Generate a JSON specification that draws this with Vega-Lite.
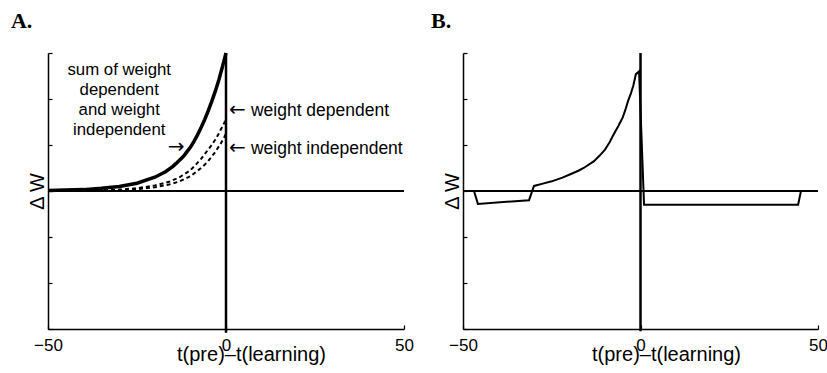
{
  "$schema": "https://vega.github.io/schema/vega-lite/v6.json",
  "background": "white",
  "padding": {"left": 10, "top": 10, "right": 5, "bottom": 5},
  "spacing": 59,
  "bounds": "flush",
  "config": {
    "view": {"stroke": null},
    "font": "Liberation Sans",
    "axis": {
      "grid": false,
      "domainColor": "black",
      "domainWidth": 1.5,
      "tickColor": "black",
      "tickWidth": 1.2,
      "tickSize": -4,
      "labelColor": "black",
      "labelFont": "Liberation Sans",
      "labelFontSize": 17,
      "titleColor": "black",
      "titleFont": "Liberation Sans",
      "titleFontWeight": "normal",
      "titleFontSize": 20
    }
  },
  "hconcat": [
    {
      "width": 356,
      "height": 276,
      "encoding": {
        "x": {"field": "x", "type": "quantitative", "scale": {"domain": [-50, 50], "nice": false},
          "axis": {"values": [-50, 0, 50], "title": "t(pre)–t(learning)", "labelPadding": 12, "labelFlush": false, "titleX": 203, "titleY": 31, "titleBaseline": "alphabetic", "titleAlign": "center"}},
        "y": {"field": "y", "type": "quantitative", "scale": {"domain": [-3, 3], "nice": false},
          "axis": {"values": [-3, -2, -1, 0, 1, 2, 3], "labels": false, "title": "Δ W", "titleAngle": 270, "titleX": -5, "titleY": 138, "titleAlign": "center", "titleBaseline": "alphabetic"}}
      },
      "layer": [
        {"data": {"values": [{"x": -50, "x2": 50, "y": 0}]}, "mark": {"type": "rule", "color": "black", "strokeWidth": 2}, "encoding": {"x2": {"field": "x2"}}},
        {"data": {"values": [{"x": 0, "y": -3.08, "y2": 3}]}, "mark": {"type": "rule", "color": "black", "strokeWidth": 2.5}, "encoding": {"y2": {"field": "y2"}}},
        {"data": {"values": [
          {"x": -50, "y": 0.0}, {"x": -40, "y": 0.01}, {"x": -30, "y": 0.03}, {"x": -25, "y": 0.06}, {"x": -20, "y": 0.12},
          {"x": -16, "y": 0.2}, {"x": -13, "y": 0.3}, {"x": -10, "y": 0.45}, {"x": -8.5, "y": 0.57}, {"x": -7, "y": 0.7},
          {"x": -6, "y": 0.8}, {"x": -5, "y": 0.9}, {"x": -4, "y": 1.0}, {"x": -3, "y": 1.12}, {"x": -2, "y": 1.25},
          {"x": -1.5, "y": 1.33}, {"x": -1, "y": 1.4}, {"x": -0.5, "y": 1.48}, {"x": 0, "y": 1.57}]},
         "mark": {"type": "line", "color": "black", "strokeWidth": 2, "strokeDash": [4, 3]}},
        {"data": {"values": [
          {"x": -50, "y": 0.0}, {"x": -40, "y": 0.005}, {"x": -30, "y": 0.02}, {"x": -25, "y": 0.04}, {"x": -20, "y": 0.08},
          {"x": -16, "y": 0.14}, {"x": -13, "y": 0.21}, {"x": -10, "y": 0.32}, {"x": -8.5, "y": 0.41}, {"x": -7, "y": 0.5},
          {"x": -6, "y": 0.57}, {"x": -5, "y": 0.65}, {"x": -4, "y": 0.75}, {"x": -3, "y": 0.85}, {"x": -2, "y": 0.97},
          {"x": -1.5, "y": 1.03}, {"x": -1, "y": 1.1}, {"x": -0.5, "y": 1.17}, {"x": 0, "y": 1.25}]},
         "mark": {"type": "line", "color": "black", "strokeWidth": 2, "strokeDash": [4, 3]}},
        {"data": {"values": [
          {"x": -50, "y": 0.01}, {"x": -45, "y": 0.02}, {"x": -40, "y": 0.03}, {"x": -35, "y": 0.06}, {"x": -30, "y": 0.1},
          {"x": -25, "y": 0.17}, {"x": -20, "y": 0.3}, {"x": -17, "y": 0.42}, {"x": -15, "y": 0.53}, {"x": -14, "y": 0.6},
          {"x": -12, "y": 0.75}, {"x": -11, "y": 0.85}, {"x": -10, "y": 0.95}, {"x": -9, "y": 1.08}, {"x": -8, "y": 1.22},
          {"x": -7, "y": 1.38}, {"x": -6, "y": 1.55}, {"x": -5, "y": 1.74}, {"x": -4, "y": 1.95}, {"x": -3, "y": 2.17},
          {"x": -2, "y": 2.42}, {"x": -1.5, "y": 2.56}, {"x": -1, "y": 2.7}, {"x": -0.5, "y": 2.85}, {"x": 0, "y": 3.0}]},
         "mark": {"type": "line", "color": "black", "strokeWidth": 3.5}},
        {"data": {"values": [{"x": -30, "y": 2.52, "label": "sum of weight\ndependent\nand weight\nindependent"}]},
         "mark": {"type": "text", "color": "black", "fontSize": 16.8, "align": "center", "baseline": "alphabetic", "lineBreak": "\n", "lineHeight": 20},
         "encoding": {"text": {"field": "label"}}},
        {"data": {"values": [
          {"x": 7.0, "y": 1.74, "label": "weight dependent"},
          {"x": 7.0, "y": 0.91, "label": "weight independent"}]},
         "mark": {"type": "text", "color": "black", "fontSize": 17.5, "align": "left", "baseline": "middle"},
         "encoding": {"text": {"field": "label"}}},
        {"data": {"values": [
          {"x": 3.2, "y": 1.76, "label": "←"},
          {"x": 3.2, "y": 0.93, "label": "←"},
          {"x": -14, "y": 0.95, "label": "→"}]},
         "mark": {"type": "text", "color": "black", "font": "DejaVu Sans", "fontSize": 20, "align": "center", "baseline": "middle"},
         "encoding": {"text": {"field": "label"}}},
        {"data": {"values": [{"x": -60.4, "y": 3.54, "label": "A."}]},
         "mark": {"type": "text", "color": "black", "font": "Liberation Serif", "fontSize": 22, "fontWeight": "bold", "align": "left", "baseline": "alphabetic"},
         "encoding": {"text": {"field": "label"}}}
      ]
    },
    {
      "width": 355,
      "height": 276,
      "encoding": {
        "x": {"field": "x", "type": "quantitative", "scale": {"domain": [-50, 50], "nice": false},
          "axis": {"values": [-50, 0, 50], "title": "t(pre)–t(learning)", "labelPadding": 12, "labelFlush": false, "titleX": 203, "titleY": 31, "titleBaseline": "alphabetic", "titleAlign": "center"}},
        "y": {"field": "y", "type": "quantitative", "scale": {"domain": [-3, 3], "nice": false},
          "axis": {"values": [-3, -2, -1, 0, 1, 2, 3], "labels": false, "title": "Δ W", "titleAngle": 270, "titleX": -5, "titleY": 138, "titleAlign": "center", "titleBaseline": "alphabetic"}}
      },
      "layer": [
        {"data": {"values": [{"x": -50, "x2": 50, "y": 0}]}, "mark": {"type": "rule", "color": "black", "strokeWidth": 2}, "encoding": {"x2": {"field": "x2"}}},
        {"data": {"values": [{"x": 0, "y": -3.05, "y2": 3}]}, "mark": {"type": "rule", "color": "black", "strokeWidth": 2.5}, "encoding": {"y2": {"field": "y2"}}},
        {"data": {"values": [
          {"x": -50, "y": 0}, {"x": -46.9, "y": 0}, {"x": -45.8, "y": -0.28}, {"x": -31.4, "y": -0.2}, {"x": -30, "y": 0.11},
          {"x": -27.5, "y": 0.16}, {"x": -25, "y": 0.21}, {"x": -22, "y": 0.29}, {"x": -19.6, "y": 0.37}, {"x": -17.5, "y": 0.44},
          {"x": -16, "y": 0.5}, {"x": -13.1, "y": 0.65}, {"x": -11.5, "y": 0.77}, {"x": -10, "y": 0.9}, {"x": -8.7, "y": 1.06},
          {"x": -7.5, "y": 1.24}, {"x": -6.2, "y": 1.42}, {"x": -5, "y": 1.6}, {"x": -4.2, "y": 1.78}, {"x": -3.5, "y": 1.96},
          {"x": -2.7, "y": 2.12}, {"x": -2, "y": 2.3}, {"x": -1.3, "y": 2.54},
          {"x": -0.4, "y": 2.6}, {"x": 1.0, "y": -0.3}, {"x": 44.4, "y": -0.3}, {"x": 45.2, "y": 0}, {"x": 50, "y": 0}]},
         "mark": {"type": "line", "color": "black", "strokeWidth": 2}},
        {"data": {"values": [{"x": -59.0, "y": 3.54, "label": "B."}]},
         "mark": {"type": "text", "color": "black", "font": "Liberation Serif", "fontSize": 22, "fontWeight": "bold", "align": "left", "baseline": "alphabetic"},
         "encoding": {"text": {"field": "label"}}}
      ]
    }
  ]
}
